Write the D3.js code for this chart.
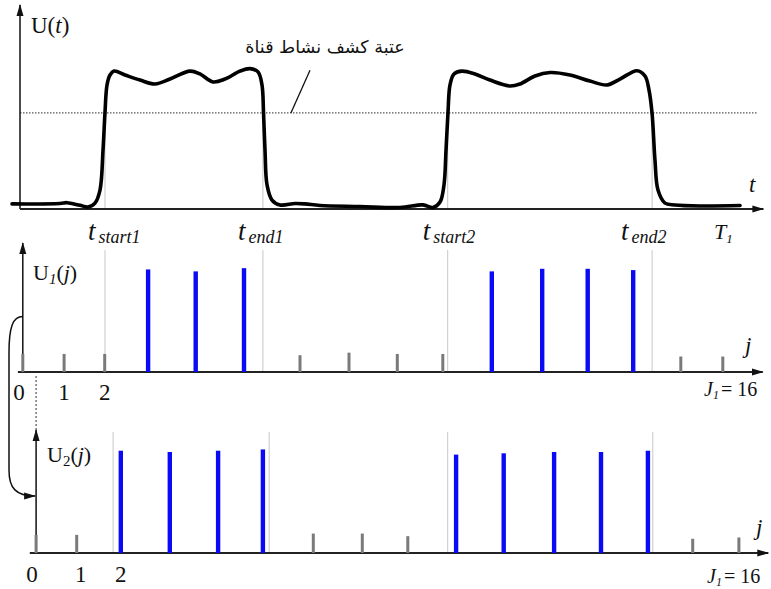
<!DOCTYPE html>
<html>
<head>
<meta charset="utf-8">
<script src="https://cdn.jsdelivr.net/npm/d3@7"></script>
<style>
  html, body { margin: 0; padding: 0; background: #fff; }
  svg { display: block; }
  .serif { font-family: "Liberation Serif", "DejaVu Serif", serif; fill: #111; }
</style>
</head>
<body>
<svg id="chart" width="771" height="589"></svg>
<script>
// ---- data ----------------------------------------------------------------
// Received signal envelope U(t): [time, amplitude]
const signalT = [-1.14, 5.71, 6.71, 8.57, 9.71, 10.71, 11.43, 11.86, 12.14, 12.43, 12.86, 13.43,
  15.0, 17.14, 19.29, 21.43, 24.29, 25.71, 27.57, 29.29, 31.43, 32.86, 34.0, 34.57, 34.79, 35.0,
  35.29, 36.0, 37.14, 39.29, 40.71, 42.86, 48.57, 54.29, 57.57, 59.0, 60.0, 60.57, 60.86, 61.14,
  61.43, 62.0, 63.14, 65.0, 67.14, 70.0, 71.43, 73.57, 75.71, 78.57, 81.43, 83.86, 85.71, 88.14,
  89.29, 89.86, 90.29, 90.71, 91.14, 92.14, 93.57, 97.14, 102.86];
const signalU = [0.25, 0.27, 0.31, 0.18, 0.10, 0.29, 0.93, 2.89, 4.71, 6.08, 6.57, 6.76,
  6.57, 6.32, 6.13, 6.37, 6.76, 6.62, 6.23, 6.37, 6.76, 6.88, 6.72, 6.08, 4.71, 2.89,
  1.18, 0.44, 0.20, 0.27, 0.25, 0.17, 0.12, 0.07, 0.20, 0.07, 0.34, 1.18, 2.89, 4.71,
  6.08, 6.62, 6.76, 6.62, 6.32, 6.03, 6.13, 6.52, 6.69, 6.57, 6.27, 6.08, 6.37, 6.78,
  6.52, 5.83, 4.71, 2.40, 0.93, 0.29, 0.20, 0.15, 0.17];
const threshold = 4.71;

// Channel activity boundaries (time)
const boundaryNames = ["start1", "end1", "start2", "end2"];
const boundaries = [12.14, 34.7, 61.1, 90.3];
const boundariesU2 = [13.3, 35.6, 61.1, 90.4];

// Samples of the first scan U1(j), j = 0..15
const sampleTimesU1 = [0.4, 6.3, 12.1, 18.3, 25.1, 32.0, 40.0, 47.0, 53.9, 60.4, 67.4, 74.6, 81.1, 87.6, 94.4, 100.4];
const sampleValuesU1 = [1.4, 1.4, 1.4, 7.95, 7.8, 8.05, 1.3, 1.5, 1.4, 1.4, 7.8, 8.0, 8.0, 7.9, 1.2, 1.2];

// Samples of the second (shifted) scan U2(j), j = 0..15
const sampleTimesU2 = [2.3, 8.1, 14.4, 21.4, 28.3, 34.7, 41.9, 48.9, 55.4, 62.3, 69.1, 76.3, 83.0, 89.7, 96.1, 102.7];
const sampleValuesU2 = [1.4, 1.4, 7.9, 7.8, 7.9, 8.0, 1.5, 1.5, 1.3, 7.6, 7.7, 7.8, 7.8, 7.9, 1.1, 1.2];

const tickLabels = ["0", "1", "2"];
const sampleCount = "16";
const thresholdCaption = "عتبة كشف نشاط قناة";

// ---- scales ----------------------------------------------------------------
const xT  = d3.scaleLinear().domain([0, 100]).range([20, 720]);
const yTop = d3.scaleLinear().domain([0, 10]).range([209, 5]);
const yU1 = d3.scaleLinear().domain([0, 10]).range([372, 243]);
const yU2 = d3.scaleLinear().domain([0, 9.5]).range([553, 430]);
const detectLevel = 5;

const svg = d3.select("#chart");
const defs = svg.append("defs");
defs.append("marker")
  .attr("id", "arrow").attr("markerUnits", "userSpaceOnUse")
  .attr("viewBox", "0 -4 12 8").attr("refX", 11).attr("refY", 0)
  .attr("markerWidth", 12).attr("markerHeight", 8).attr("orient", "auto")
  .append("path").attr("d", "M0,-3.5L12,0L0,3.5Z").attr("fill", "#111");

// ---- top panel: U(t) ----------------------------------------------------
const topPanel = svg.append("g");

// guide lines at boundaries (under the curve)
topPanel.selectAll("line.guide").data(boundaries).join("line")
  .attr("x1", d => xT(d)).attr("x2", d => xT(d))
  .attr("y1", yTop(0)).attr("y2", yTop(threshold))
  .attr("stroke", "#c4c4c4").attr("stroke-width", 1);

// threshold
topPanel.append("line")
  .attr("x1", xT(0)).attr("x2", xT(105.3))
  .attr("y1", yTop(threshold)).attr("y2", yTop(threshold))
  .attr("stroke", "#555").attr("stroke-width", 1.2).attr("stroke-dasharray", "1.5,1.5");

// axes
topPanel.append("line").attr("x1", xT(0)).attr("x2", xT(0)).attr("y1", yTop(0)).attr("y2", yTop(10))
  .attr("stroke", "#111").attr("stroke-width", 1.5).attr("marker-end", "url(#arrow)");
topPanel.append("line").attr("x1", xT(0)).attr("x2", xT(106.2)).attr("y1", yTop(0)).attr("y2", yTop(0))
  .attr("stroke", "#222").attr("stroke-width", 2).attr("marker-end", "url(#arrow)");

// signal envelope
const line = d3.line()
  .x((d, i) => xT(signalT[i])).y(d => yTop(d))
  .curve(d3.curveCatmullRom.alpha(0.5));
topPanel.append("path").datum(signalU).attr("d", line)
  .attr("fill", "none").attr("stroke", "#000").attr("stroke-width", 3.6)
  .attr("stroke-linejoin", "round").attr("stroke-linecap", "round");

// leader line to threshold caption
topPanel.append("line").attr("x1", xT(41.43)).attr("y1", yTop(6.8))
  .attr("x2", xT(38.7)).attr("y2", yTop(threshold))
  .attr("stroke", "#111").attr("stroke-width", 1.3);
topPanel.append("text").attr("x", 325).attr("y", 53)
  .attr("text-anchor", "middle").attr("direction", "rtl")
  .style("font-family", '"DejaVu Sans", sans-serif').style("font-size", "17.5px").attr("fill", "#111")
  .text(thresholdCaption);

// U(t) label
const ut = topPanel.append("text").attr("class", "serif").attr("x", 31).attr("y", 33).style("font-size", "23px");
ut.append("tspan").text("U(");
ut.append("tspan").style("font-style", "italic").text("t");
ut.append("tspan").text(")");
topPanel.append("text").attr("class", "serif").attr("x", 749).attr("y", 192)
  .style("font-size", "23px").style("font-style", "italic").text("t");

// boundary labels t_start / t_end
const labelShift = [-17, -25, -25, -31];
boundaries.forEach((b, i) => {
  const t = svg.append("text").attr("class", "serif").attr("x", xT(b) + labelShift[i]).attr("y", 240)
    .style("font-style", "italic");
  t.append("tspan").style("font-size", "27px").text("t");
  t.append("tspan").attr("dx", 3).attr("dy", 3).style("font-size", "18px").text(boundaryNames[i]);
});
const T1 = svg.append("text").attr("class", "serif").attr("x", 714).attr("y", 239).style("font-style", "italic");
T1.append("tspan").style("font-size", "22px").text("T");
T1.append("tspan").attr("dy", 4).style("font-size", "13px").text("1");

// ---- stem panels -------------------------------------------------------
function stemPanel(opts) {
  const g = svg.append("g");
  const y = opts.y;
  const y0 = y(0);
  // guides
  g.selectAll("line.guide").data(opts.guides).join("line")
    .attr("x1", d => xT(d)).attr("x2", d => xT(d))
    .attr("y1", y0).attr("y2", opts.guideTop)
    .attr("stroke", "#c8c8c8").attr("stroke-width", 1);
  // axes
  g.append("line").attr("x1", xT(opts.xStart)).attr("x2", xT(opts.xEnd)).attr("y1", y0).attr("y2", y0)
    .attr("stroke", "#222").attr("stroke-width", 2).attr("marker-end", "url(#arrow)");
  g.append("line").attr("x1", xT(opts.origin)).attr("x2", xT(opts.origin)).attr("y1", y0).attr("y2", y.range()[1])
    .attr("stroke", "#111").attr("stroke-width", 1.5).attr("marker-end", "url(#arrow)");
  // stems
  g.selectAll("line.stem").data(opts.values).join("line")
    .attr("x1", (d, i) => xT(opts.times[i])).attr("x2", (d, i) => xT(opts.times[i]))
    .attr("y1", y0).attr("y2", d => y(d))
    .attr("stroke", d => d > detectLevel ? "#0a0af5" : "#7a7a7a")
    .attr("stroke-width", d => d > detectLevel ? 4.4 : 3);
  // axis label U_k(j)
  const lab = g.append("text").attr("class", "serif").attr("x", opts.labelX).attr("y", opts.labelY).style("font-size", "22px");
  lab.append("tspan").text("U");
  lab.append("tspan").attr("dy", 4).style("font-size", "15px").style("font-style", opts.subItalic ? "italic" : "normal").text(opts.sub);
  lab.append("tspan").attr("dy", -4).text("(");
  lab.append("tspan").style("font-style", "italic").text("j");
  lab.append("tspan").text(")");
  // tick numbers 0 1 2
  g.selectAll("text.tick").data(tickLabels).join("text").attr("class", "serif")
    .attr("x", (d, i) => opts.tickX(i)).attr("y", opts.tickY)
    .attr("text-anchor", "middle").style("font-size", "23px").text(d => d);
  // j label
  g.append("text").attr("class", "serif").attr("x", opts.jX).attr("y", opts.jY)
    .style("font-size", "23px").style("font-style", "italic").text("j");
  // J1 = 16
  const J = g.append("text").attr("class", "serif").attr("x", opts.JX).attr("y", opts.JY).style("font-size", "20px");
  J.append("tspan").style("font-style", "italic").text("J");
  J.append("tspan").attr("dy", 3).style("font-size", "12px").style("font-style", "italic").text("1");
  J.append("tspan").attr("dy", -3).attr("dx", 2).text("= " + sampleCount);
  return g;
}

stemPanel({
  y: yU1, guides: boundaries, guideTop: 250,
  times: sampleTimesU1, values: sampleValuesU1,
  origin: sampleTimesU1[0], xStart: -0.3, xEnd: 106.1,
  labelX: 33, labelY: 280, sub: "1", subItalic: true,
  tickX: i => [19, xT(sampleTimesU1[1]), xT(sampleTimesU1[2])][i], tickY: 400,
  jX: 745, jY: 353, JX: 704, JY: 396
});

stemPanel({
  y: yU2, guides: boundariesU2, guideTop: 432,
  times: sampleTimesU2, values: sampleValuesU2,
  origin: sampleTimesU2[0], xStart: 1.4, xEnd: 106.9,
  labelX: 47, labelY: 462, sub: "2", subItalic: false,
  tickX: i => [32, xT(sampleTimesU2[1]) + 4, xT(sampleTimesU2[2])][i], tickY: 582,
  jX: 756, jY: 535, JX: 707, JY: 583
});

// dotted link between the two j = 0 origins
svg.append("line")
  .attr("x1", xT(sampleTimesU2[0])).attr("x2", xT(sampleTimesU2[0]))
  .attr("y1", yU1(0) + 4).attr("y2", yU2.range()[1])
  .attr("stroke", "#555").attr("stroke-width", 1.2).attr("stroke-dasharray", "2,2");

// curved arrow from the U1 axis to the U2 axis
const x1 = xT(sampleTimesU1[0]), x2 = xT(sampleTimesU2[0]) - 1;
svg.append("path")
  .attr("d", `M${x1},${yU1(4.3)} C${x1 - 10},${yU1(4.3)} ${9},${yU1(3.5)} ${9},${yU1(1.5)}
              L9,${yU2(6.4)} C9,${yU2(5)} 16,${yU2(4.4)} ${x2},${yU2(4.4)}`)
  .attr("fill", "none").attr("stroke", "#111").attr("stroke-width", 1.5)
  .attr("marker-end", "url(#arrow)");
</script>
</body>
</html>
